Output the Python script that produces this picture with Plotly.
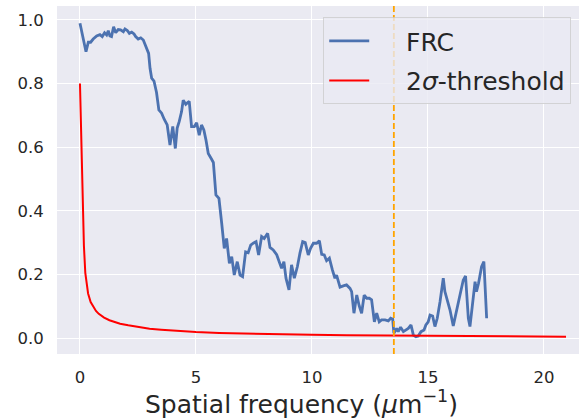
import plotly.graph_objects as go

# FRC curve
frc_x = [0.00, 0.26, 0.36, 0.46, 0.57, 0.72, 0.86, 0.96, 1.06, 1.15, 1.22, 1.29, 1.36, 1.45, 1.54,
         1.65, 1.75, 1.87, 1.94, 2.04, 2.13, 2.23, 2.33, 2.40, 2.51, 2.62, 2.73, 2.84, 2.96, 3.02,
         3.09, 3.19, 3.30, 3.40, 3.52, 3.63, 3.76, 3.88, 4.00, 4.11, 4.19, 4.28, 4.38, 4.45, 4.56,
         4.64, 4.71, 4.81, 4.93, 5.03, 5.14, 5.24, 5.34, 5.43, 5.53, 5.65, 5.75, 5.86, 5.99, 6.11,
         6.22, 6.32, 6.44, 6.54, 6.65, 6.78, 6.90, 7.01, 7.14, 7.25, 7.36, 7.47, 7.59, 7.70, 7.83,
         7.94, 8.09, 8.19, 8.33, 8.48, 8.62, 8.69, 8.79, 8.88, 9.01, 9.12, 9.24, 9.37, 9.48, 9.60,
         9.71, 9.84, 9.94, 10.06, 10.20, 10.32, 10.42, 10.53, 10.63, 10.75, 10.88, 10.99, 11.06,
         11.21, 11.35, 11.49, 11.64, 11.71, 11.81, 11.93, 12.04, 12.14, 12.25, 12.36, 12.47, 12.57,
         12.69, 12.79, 12.90, 13.00, 13.15, 13.29, 13.39, 13.48, 13.53, 13.65, 13.72, 13.82, 13.94,
         14.05, 14.15, 14.27, 14.37, 14.48, 14.58, 14.70, 14.83, 14.91, 15.01, 15.09, 15.20, 15.30,
         15.40, 15.52, 15.66, 15.73, 15.83, 15.95, 16.09, 16.24, 16.38, 16.52, 16.62, 16.74, 16.81,
         17.03, 17.09, 17.18, 17.31, 17.41, 17.53]
frc_y = [0.990, 0.900, 0.930, 0.930, 0.940, 0.950, 0.954, 0.948, 0.960, 0.953, 0.966, 0.950, 0.948,
         0.979, 0.960, 0.970, 0.969, 0.963, 0.972, 0.967, 0.958, 0.962, 0.956, 0.948, 0.940, 0.944,
         0.937, 0.916, 0.895, 0.848, 0.817, 0.808, 0.772, 0.717, 0.707, 0.688, 0.670, 0.607, 0.665,
         0.596, 0.660, 0.681, 0.712, 0.748, 0.735, 0.740, 0.744, 0.665, 0.665, 0.677, 0.638, 0.670,
         0.654, 0.623, 0.580, 0.565, 0.552, 0.450, 0.439, 0.360, 0.282, 0.313, 0.235, 0.256, 0.198,
         0.240, 0.198, 0.193, 0.271, 0.268, 0.292, 0.298, 0.303, 0.261, 0.319, 0.313, 0.329, 0.285,
         0.277, 0.262, 0.232, 0.219, 0.240, 0.188, 0.151, 0.230, 0.188, 0.224, 0.266, 0.303, 0.300,
         0.261, 0.282, 0.298, 0.298, 0.306, 0.263, 0.261, 0.243, 0.251, 0.214, 0.188, 0.198, 0.160,
         0.164, 0.167, 0.156, 0.146, 0.078, 0.135, 0.100, 0.078, 0.135, 0.125, 0.125, 0.120, 0.051,
         0.078, 0.051, 0.057, 0.057, 0.054, 0.062, 0.059, 0.015, 0.030, 0.020, 0.034, 0.020, 0.025,
         0.030, 0.041, 0.009, 0.004, 0.006, 0.020, 0.025, 0.041, 0.051, 0.072, 0.069, 0.036, 0.062,
         0.114, 0.188, 0.146, 0.120, 0.088, 0.038, 0.093, 0.135, 0.182, 0.195, 0.062, 0.036, 0.177,
         0.146, 0.172, 0.224, 0.240, 0.062]

# 2-sigma threshold curve
thr_x = [0.00, 0.06, 0.12, 0.17, 0.23, 0.29, 0.35, 0.46, 0.58, 0.69, 0.81, 0.92, 1.04, 1.27, 1.50,
         1.73, 2.08, 2.50, 3.00, 3.50, 4.00, 5.00, 6.00, 7.00, 8.00, 9.00, 10.00, 11.50, 13.00,
         14.50, 16.00, 17.50, 19.00, 20.95]
thr_y = [0.800, 0.600, 0.400, 0.290, 0.205, 0.165, 0.140, 0.113, 0.097, 0.085, 0.076, 0.069, 0.064,
         0.056, 0.050, 0.045, 0.040, 0.034, 0.029, 0.026, 0.023, 0.019, 0.016, 0.014, 0.0125, 0.011,
         0.010, 0.0088, 0.0077, 0.0068, 0.0060, 0.0054, 0.0048, 0.0042]

cutoff_freq = 13.53
x_ticks = [0, 5, 10, 15, 20]
y_ticks = [0.0, 0.2, 0.4, 0.6, 0.8, 1.0]
x_label = "Spatial frequency (<i>μ</i>m<sup>−1</sup>)"

TXT = "#262626"
fig = go.Figure()
fig.add_trace(go.Scatter(x=frc_x, y=frc_y, mode="lines", name="    FRC",
                         line=dict(color="#4C72B0", width=2.8), legendgroup="a"))
fig.add_trace(go.Scatter(x=thr_x, y=thr_y, mode="lines", name="    2<i>σ</i>-threshold",
                         line=dict(color="#FF0000", width=2), legendgroup="b"))
fig.add_vline(x=cutoff_freq, line=dict(color="#FFA500", width=1.8, dash="6px,3px"), layer="above")

fig.add_annotation(text=x_label, xref="paper", yref="paper", x=0.468, y=-0.138,
                   xanchor="center", yanchor="middle", showarrow=False,
                   font=dict(size=25, color=TXT))

fig.update_layout(
    width=579, height=420,
    margin=dict(l=57, r=0, t=6, b=66, autoexpand=False),
    paper_bgcolor="white", plot_bgcolor="#EAEAF2",
    font=dict(family="DejaVu Sans", color=TXT, size=16),
    showlegend=True,
    legend=dict(x=0.51, y=0.968, xanchor="left", yanchor="top",
                bgcolor="rgba(234,234,242,0.8)", bordercolor="rgba(204,204,204,0.8)", borderwidth=1,
                font=dict(size=25, color=TXT), traceorder="grouped", tracegroupgap=4,
                itemwidth=40),
    xaxis=dict(range=[-0.99, 21.51], tickvals=x_ticks, ticktext=[str(v) for v in x_ticks],
               automargin=False,
               showgrid=True, gridcolor="white", gridwidth=1.2, zeroline=False, showline=False,
               ticks="outside", ticklen=8, tickcolor="rgba(0,0,0,0)",
               tickfont=dict(size=16.5, color=TXT)),
    yaxis=dict(range=[-0.0503, 1.044], tickvals=y_ticks, ticktext=[f"{v:.1f}" for v in y_ticks],
               automargin=False,
               showgrid=True, gridcolor="white", gridwidth=1.2, zeroline=False, showline=False,
               ticks="outside", ticklen=9, tickcolor="rgba(0,0,0,0)",
               tickfont=dict(size=16.5, color=TXT)),
)
fig.write_html("out.html", post_script="document.body.style.margin='0';",
               config={"displayModeBar": False})
